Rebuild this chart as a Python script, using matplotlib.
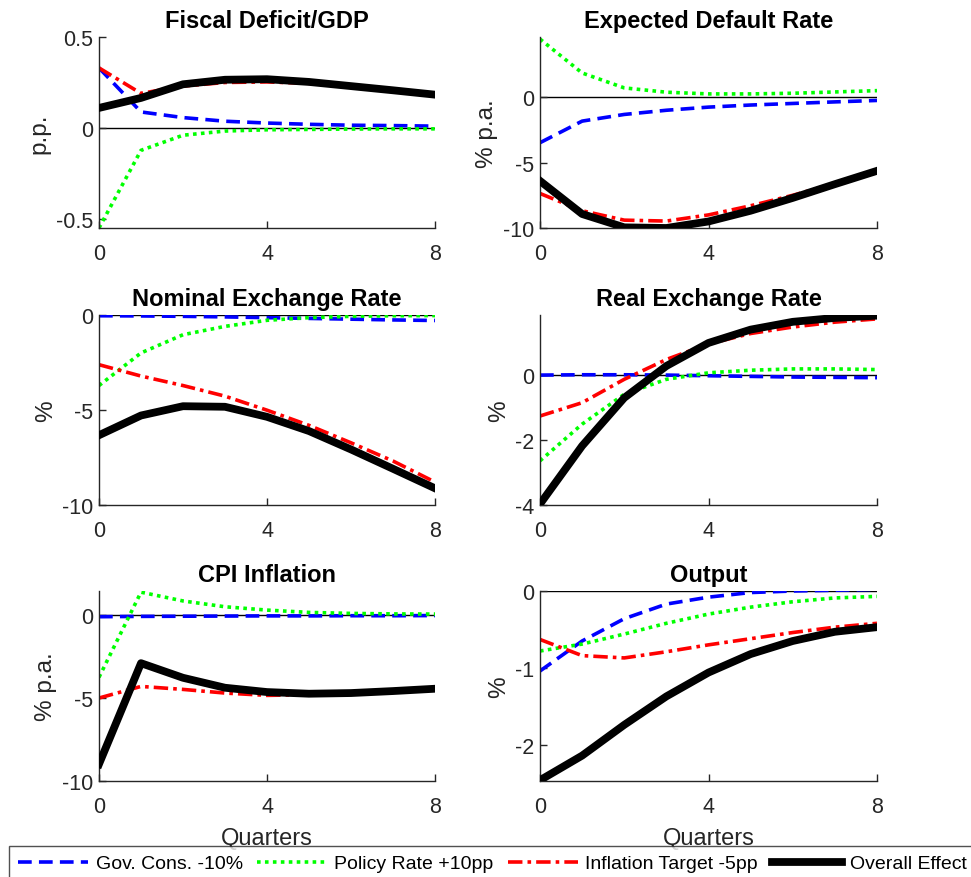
import matplotlib
matplotlib.use("Agg")
import matplotlib.pyplot as plt
import numpy as np

plt.rcParams['font.family'] = ['Liberation Sans', 'DejaVu Sans']
plt.rcParams['axes.unicode_minus'] = False

quarters = [0, 1, 2, 3, 4, 5, 6, 7, 8]
series_names = ["Gov. Cons. -10%", "Policy Rate +10pp", "Inflation Target -5pp", "Overall Effect"]

titles = ["Fiscal Deficit/GDP", "Expected Default Rate", "Nominal Exchange Rate",
          "Real Exchange Rate", "CPI Inflation", "Output"]
ylabels = ["p.p.", "% p.a.", "%", "%", "% p.a.", "%"]

# Fiscal Deficit/GDP
fd_gov = [0.33, 0.088, 0.057, 0.037, 0.027, 0.020, 0.015, 0.013, 0.010]
fd_pol = [-0.55, -0.123, -0.040, -0.017, -0.010, -0.008, -0.006, -0.005, -0.005]
fd_inf = [0.33, 0.19, 0.23, 0.25, 0.253, 0.245, 0.23, 0.21, 0.19]
fd_all = [0.11, 0.165, 0.24, 0.265, 0.268, 0.253, 0.23, 0.207, 0.183]

# Expected Default Rate
ed_gov = [-3.48, -1.83, -1.32, -1.00, -0.76, -0.60, -0.48, -0.36, -0.25]
ed_pol = [4.44, 1.85, 0.71, 0.38, 0.25, 0.25, 0.30, 0.40, 0.50]
ed_inf = [-7.36, -8.68, -9.40, -9.47, -9.00, -8.30, -7.50, -6.60, -5.76]
ed_all = [-6.40, -8.93, -9.95, -10.0, -9.50, -8.68, -7.70, -6.65, -5.63]

# Nominal Exchange Rate
ne_gov = [-0.02, -0.03, -0.05, -0.08, -0.12, -0.16, -0.20, -0.24, -0.27]
ne_pol = [-3.70, -1.98, -1.02, -0.58, -0.26, -0.12, -0.05, -0.02, -0.01]
ne_inf = [-2.60, -3.20, -3.70, -4.26, -5.00, -5.80, -6.72, -7.68, -8.79]
ne_all = [-6.32, -5.28, -4.79, -4.82, -5.35, -6.10, -7.07, -8.09, -9.12]

# Real Exchange Rate
re_gov = [0.0, 0.01, 0.01, 0.0, -0.02, -0.04, -0.06, -0.07, -0.08]
re_pol = [-2.64, -1.51, -0.59, -0.13, 0.07, 0.15, 0.19, 0.19, 0.17]
re_inf = [-1.26, -0.85, -0.13, 0.48, 0.96, 1.28, 1.48, 1.63, 1.73]
re_all = [-3.97, -2.18, -0.70, 0.28, 0.99, 1.40, 1.64, 1.76, 1.83]

# CPI Inflation
cpi_gov = [-0.10, -0.08, -0.07, -0.06, -0.05, -0.05, -0.04, -0.04, -0.03]
cpi_pol = [-3.75, 1.38, 0.85, 0.50, 0.30, 0.16, 0.10, 0.07, 0.06]
cpi_inf = [-5.00, -4.30, -4.48, -4.70, -4.84, -4.80, -4.74, -4.60, -4.44]
cpi_all = [-8.98, -2.90, -3.78, -4.38, -4.64, -4.74, -4.70, -4.58, -4.44]

# Output
out_gov = [-1.04, -0.65, -0.36, -0.17, -0.08, -0.02, 0.0, 0.01, 0.02]
out_pol = [-0.78, -0.69, -0.56, -0.42, -0.30, -0.21, -0.14, -0.09, -0.07]
out_inf = [-0.63, -0.84, -0.87, -0.79, -0.70, -0.62, -0.54, -0.47, -0.42]
out_all = [-2.46, -2.14, -1.74, -1.37, -1.06, -0.82, -0.65, -0.53, -0.47]

panels = [
    (fd_gov, fd_pol, fd_inf, fd_all),
    (ed_gov, ed_pol, ed_inf, ed_all),
    (ne_gov, ne_pol, ne_inf, ne_all),
    (re_gov, re_pol, re_inf, re_all),
    (cpi_gov, cpi_pol, cpi_inf, cpi_all),
    (out_gov, out_pol, out_inf, out_all),
]

ylims = [(-0.55, 0.5), (-10, 4.6), (-10, 0.02), (-4, 1.85), (-10, 1.45), (-2.47, 0.0)]
yticks = [[-0.5, 0, 0.5], [-10, -5, 0], [-10, -5, 0], [-4, -2, 0], [-10, -5, 0], [-2, -1, 0]]
ytlabels = [["-0.5", "0", "0.5"], ["-10", "-5", "0"], ["-10", "-5", "0"],
            ["-4", "-2", "0"], ["-10", "-5", "0"], ["-2", "-1", "0"]]

styles = [
    dict(color=(0, 0, 1), lw=2.6, dashes=(3.8, 2.0)),
    dict(color=(0, 1, 0), lw=2.6, dashes=(1.0, 1.2)),
    dict(color=(1, 0, 0), lw=2.6, dashes=(4.0, 1.4, 1.0, 1.4)),
    dict(color=(0, 0, 0), lw=5.6, linestyle='-'),
]

W, H = 971, 878
fig = plt.figure(figsize=(W / 100, H / 100), dpi=100)

col_x = [(99, 435), (540, 877)]
row_y = [(38, 229), (316, 506), (592, 782)]
gray = '#262626'

handles = []
for i, (data, title, ylab) in enumerate(zip(panels, titles, ylabels)):
    r, c = divmod(i, 2)
    x0, x1 = col_x[c]
    yt, yb = row_y[r]
    ax = fig.add_axes([x0 / W, 1 - yb / H, (x1 - x0) / W, (yb - yt) / H])
    ax.axhline(0, color='black', lw=1.0, zorder=1)
    hs = []
    for vals, st in zip(data, styles):
        st = dict(st)
        if 'dashes' in st:
            d = st.pop('dashes')
            h, = ax.plot(quarters, vals, dashes=d, zorder=2, **st)
        else:
            h, = ax.plot(quarters, vals, zorder=3, **st)
        hs.append(h)
    if i == 0:
        handles = hs
    ax.set_xlim(0, 8)
    ax.set_ylim(*ylims[i])
    ax.set_xticks([0, 4, 8])
    ax.set_xticklabels(["0", "4", "8"])
    ax.set_yticks(yticks[i])
    ax.set_yticklabels(ytlabels[i])
    for s in ['top', 'right']:
        ax.spines[s].set_visible(False)
    for s in ['left', 'bottom']:
        ax.spines[s].set_color(gray)
        ax.spines[s].set_linewidth(1.0)
    ax.tick_params(direction='in', length=5, width=1.0, colors=gray, labelsize=15.5)
    ax.tick_params(axis='x', pad=11)
    ax.tick_params(axis='y', pad=4)
    ax.set_title(title, fontsize=17, fontweight='bold', pad=7)
    ax.set_ylabel(ylab, fontsize=17.5, color=gray)
    if r == 2:
        ax.set_xlabel("Quarters", fontsize=17, color=gray, labelpad=7)
    ax.patch.set_alpha(0)

leg = fig.legend(handles, series_names, loc='upper left',
                 bbox_to_anchor=(9 / W, 1 - 847 / H), ncol=4, fontsize=14,
                 frameon=True, fancybox=False, edgecolor=gray, handlelength=3.6,
                 handletextpad=0.4, columnspacing=0.72, borderpad=0.45,
                 borderaxespad=0)
leg.get_frame().set_linewidth(1.0)

fig.savefig("out.png", dpi=100)
